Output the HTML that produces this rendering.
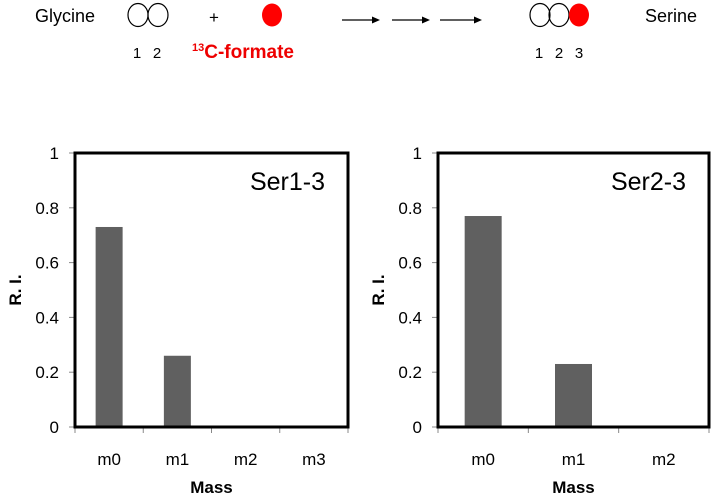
<!DOCTYPE html>
<html><head><meta charset="utf-8"><style>
body{margin:0;background:#fff;}
svg{display:block;font-family:"Liberation Sans",sans-serif;}
</style></head><body>
<svg id="root" width="714" height="496">
<g>
<text x="35" y="22" font-size="18">Glycine</text>
<ellipse cx="138" cy="15" rx="10" ry="11.5" fill="none" stroke="#000" stroke-width="1.2"/>
<ellipse cx="158" cy="15" rx="10" ry="11.5" fill="none" stroke="#000" stroke-width="1.2"/>
<text x="209" y="23" font-size="17">+</text>
<ellipse cx="272" cy="15" rx="10" ry="11.5" fill="#f00"/>
<g stroke="#000" stroke-width="1.3">
<line x1="342" y1="20" x2="374" y2="20"/><line x1="392" y1="20" x2="424" y2="20"/><line x1="440" y1="20" x2="476" y2="20"/>
</g>
<g fill="#000"><polygon points="380,20 372,16.5 372,23.5"/><polygon points="430,20 422,16.5 422,23.5"/><polygon points="482,20 474,16.5 474,23.5"/></g>
<ellipse cx="540" cy="15" rx="10" ry="11.5" fill="none" stroke="#000" stroke-width="1.2"/>
<ellipse cx="559" cy="15" rx="10" ry="11.5" fill="none" stroke="#000" stroke-width="1.2"/>
<ellipse cx="579" cy="15" rx="10" ry="11.5" fill="#f00"/>
<text x="645" y="22" font-size="18">Serine</text>
<g font-size="15" text-anchor="middle">
<text x="137" y="58">1</text><text x="157" y="58">2</text></g>
<text x="192" y="58" font-size="19" font-weight="bold" fill="#e00"><tspan font-size="11" dy="-7">13</tspan><tspan dy="7">C-formate</tspan></text>
<g font-size="15" text-anchor="middle">
<text x="539" y="58">1</text><text x="559" y="58">2</text><text x="579" y="58">3</text></g>
</g>
<g id="charts"></g>
</svg>
<script>
const cats1=["m0","m1","m2","m3"];
const vals1=[0.73,0.26,0.005,0];
const cats2=["m0","m1","m2"];
const vals2=[0.77,0.23,0];
const yTicks=[0,0.2,0.4,0.6,0.8,1];
const yTickLabels=["0","0.2","0.4","0.6","0.8","1"];
const titles=["Ser1-3","Ser2-3"];
const NS="http://www.w3.org/2000/svg";
const root=document.getElementById('charts');
function mk(tag,attrs,parent,txt){const e=document.createElementNS(NS,tag);for(const k in attrs)e.setAttribute(k,attrs[k]);if(txt!==undefined)e.textContent=txt;parent.appendChild(e);return e;}
function chart(idx,x0,x1,cats,vals,barW){
  const top=153,bot=427;
  const g=mk('g',{},root);
  
  
  const y=v=>bot-v*(bot-top);
  const cw=(x1-x0)/cats.length;
  const xc=i=>x0+cw*(i+0.5);
  yTicks.forEach((t,i)=>{
    const l=mk('line',{x1:x0-6,x2:x0,y1:y(t),y2:y(t),stroke:'#888'},g);
    
    
    const tx=mk('text',{x:x0-16,y:y(t)+6,'font-size':17,'text-anchor':'end'},g,yTickLabels[i]);
    
    
  });
  for(let i=0;i<=cats.length;i++){
    const l=mk('line',{x1:x0+cw*i,x2:x0+cw*i,y1:bot,y2:bot+6,stroke:'#888'},g);
    
    
  }
  cats.forEach((c,i)=>{
    const h=Math.max(vals[i],0);
    const r=mk('rect',{x:xc(i)-barW/2,y:y(h),width:barW,height:bot-y(h),fill:'#606060'},g);
    
    
    const t=mk('text',{x:xc(i),y:bot+38,'font-size':17,'text-anchor':'middle'},g,c);
    
    
  });
  const f=mk('rect',{x:x0,y:top,width:x1-x0,height:bot-top,fill:'none',stroke:'#000','stroke-width':3},g);
  
  
  const tt=mk('text',{x:x1-23,y:top+37,'font-size':25,'text-anchor':'end'},g,titles[idx]);
  
  
  const yl=mk('text',{x:0,y:0,'font-size':17,'font-weight':'bold','text-anchor':'middle',transform:`translate(${x0-54},${(top+bot)/2}) rotate(-90)`},g,'R. I.');
  
  
  const xl=mk('text',{x:(x0+x1)/2,y:493,'font-size':17,'font-weight':'bold','text-anchor':'middle'},g,'Mass');
  
  
}
chart(0,75,348,cats1,vals1,27);
chart(1,438,709,cats2,vals2,37);
</script>
</body></html>
